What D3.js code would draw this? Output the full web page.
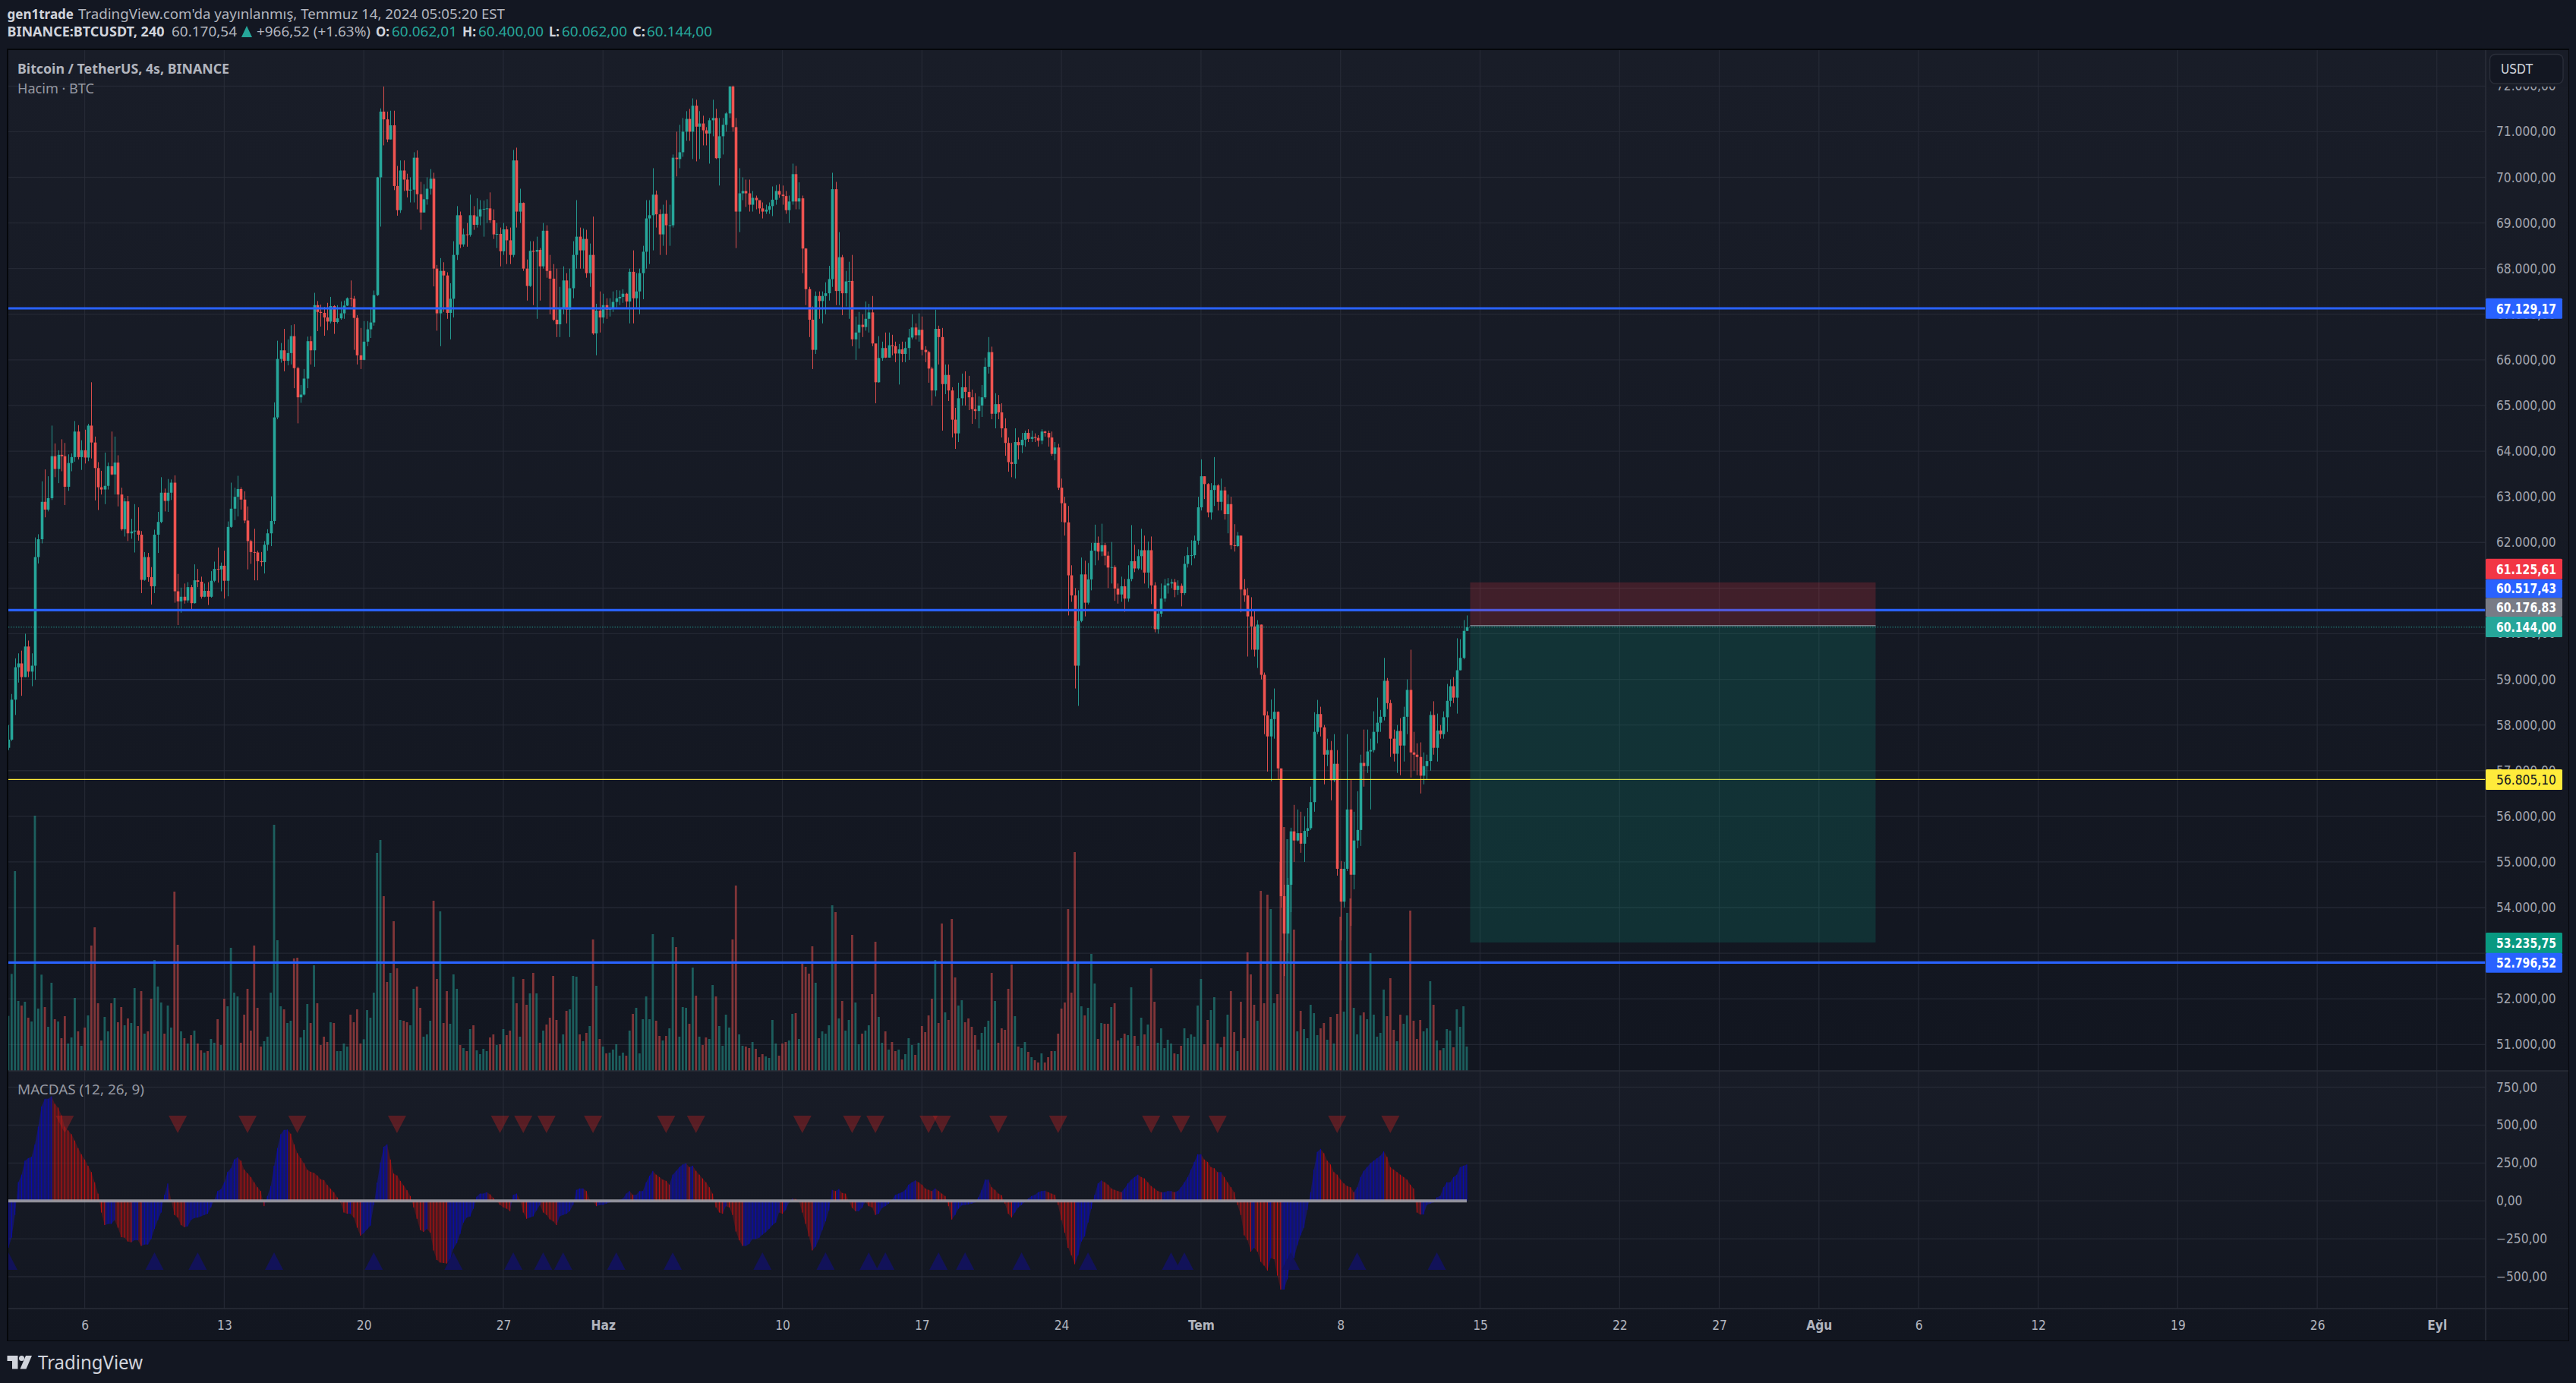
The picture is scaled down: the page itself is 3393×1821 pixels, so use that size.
<!DOCTYPE html>
<html><head><meta charset="utf-8">
<script src="https://cdn.jsdelivr.net/npm/d3@7"></script>
<style>
html,body{margin:0;padding:0;background:#131722;overflow:hidden}
svg{display:block}
text{font-family:"Noto Sans",sans-serif}
.ax text{font-family:"DejaVu Sans Condensed","DejaVu Sans",sans-serif;font-size:17.2px;fill:#a3a6af}
.ax path,.ax line{display:none}
</style></head><body><svg id="c" width="3393" height="1821"></svg>
<script>
const firstOpen=57500;
const closes=[57680,58555,59266,59350,59050,59720,59170,59300,61680,62070,
62890,62720,62970,63890,63610,63920,63890,63220,63740,63870,
64430,63870,64020,63860,64560,64190,63630,63210,63160,63240,
63670,63490,63750,63050,62290,62900,62200,62240,62260,62170,
61180,61680,61240,61040,62170,62450,63090,62910,63090,63310,
60930,60710,60810,60730,61020,60670,61170,61140,60810,60940,
60810,61160,61420,61410,61490,61160,62340,62740,63000,63170,
62940,62480,62030,61790,61780,61590,61570,61950,62200,62470,
64740,66020,66210,65980,66150,66520,65820,65180,65240,65590,
66410,66210,67200,67050,67030,66930,66840,67180,66830,66910,
67020,67190,67350,67340,66920,66100,66000,66400,66670,66820,
67420,70000,71440,71270,70830,71140,69810,69280,70150,69950,
69710,69730,70430,69630,69230,69520,69750,69970,68000,67020,
67950,67850,67030,67340,68300,69170,68530,68750,68740,69170,
68960,69140,69300,69310,69320,69060,68750,68760,68380,68860,
68620,68300,70370,69250,69440,68000,67620,68390,68370,68410,
68050,68830,67950,67780,66880,66780,67130,67740,67100,67570,
68300,68700,68400,68650,67900,68300,66580,67080,66930,67200,
67100,67130,67270,67350,67380,67450,67280,67930,67350,67500,
67900,68370,69100,69170,69620,69190,68750,69200,68950,68950,
70430,70400,70550,71000,71280,71000,71570,71110,71180,71030,
70960,71250,71300,70420,70900,71150,71400,71990,71100,69250,
69650,69700,69650,69400,69550,69500,69320,69250,69290,69370,
69510,69700,69620,69590,69280,69470,70070,69470,69540,68440,
67550,66880,66220,67400,67290,67400,67460,67770,69740,67510,
68250,67460,67720,67730,66450,66600,66770,66720,66900,67040,
66360,65510,66040,66260,66050,66320,66300,66140,66230,66130,
66260,66490,66710,66540,66660,66220,66170,65810,65330,66680,
66500,65470,65670,65330,64690,64390,65160,65400,65300,65180,
64920,64880,65000,65180,65850,66170,64820,65030,64850,64500,
64180,63760,63720,64200,64130,64250,64400,64270,64310,64290,
64230,64430,64400,64300,63940,64080,63200,62860,62440,61280,
60840,59300,60280,61300,60680,61190,61820,61990,61800,61940,
61710,61450,61460,60990,60860,61040,60770,61200,61590,61430,
61700,61830,61340,61830,61060,60100,60440,60770,61060,61100,
61130,60960,61050,60890,61530,61720,61720,62040,62770,63450,
63280,62660,63150,63250,62890,63140,62620,62840,61940,61920,
62150,60970,60840,60380,60160,59650,60200,59100,58210,57750,
58130,58290,57050,54250,53430,54500,55670,55470,55630,55400,
55680,55740,56310,57850,58240,57950,57350,57450,56790,57150,
54850,54130,54850,56150,54720,55470,55700,57170,57100,57420,
57450,57850,58050,58180,58970,58480,57700,57370,57870,57550,
58180,58770,57400,57350,57300,56890,57100,57210,58220,57500,
57880,57800,58170,58530,58850,58600,59200,59470,60062,60144];
const highs=[58000,58680,59460,59570,59630,60000,59850,59570,62110,62180,
63340,63600,63450,64560,64170,64020,64260,64180,63930,63950,
64660,64570,64240,64470,64600,65510,64320,63760,63570,63970,
63750,64430,64320,63910,63200,62970,63020,62520,62840,62770,
62250,61790,61770,61460,62280,62670,63430,63180,63390,63380,
63470,61310,61010,61100,61130,61070,61520,61420,61250,61100,
61130,61370,61580,61890,61560,61820,62460,63310,63200,63460,
63210,63120,62790,62060,62300,61820,61790,62030,62290,63010,
65070,66420,66370,66680,66450,66760,66780,65850,65450,65800,
66510,66520,67470,67290,67210,67160,67250,67380,67200,67200,
67280,67300,67370,67740,67400,66980,66700,66850,66850,67150,
67520,70010,71510,71990,71440,71460,71460,70250,70370,70370,
70080,70000,70550,70590,69900,69850,70000,70180,70100,68080,
68230,68140,67920,67680,68600,69370,69250,68880,69000,69620,
69370,69540,69500,69490,69520,69670,69300,69000,68900,69000,
68930,68900,70600,70650,69750,69450,68200,68600,68600,68700,
68450,69000,68950,68300,68100,68000,67600,68050,67900,68000,
68600,69500,68900,68880,68850,68550,69140,67230,67500,67450,
67350,67350,67500,67530,67520,67550,67470,68000,68400,67900,
68000,68500,69500,69500,70200,69710,69300,69400,69500,69400,
70500,71000,71150,71300,71450,71500,71730,71700,71450,71350,
71100,71300,71700,71500,71300,71300,71430,72000,72010,71300,
70200,70000,69950,69950,69700,69600,69450,69450,69400,69450,
69800,69830,69850,69820,69700,69600,70300,70250,69890,69600,
68450,67600,67170,67500,67500,67500,67700,68060,70100,69900,
68800,68300,67950,68150,68300,66950,67050,67000,67280,67230,
67400,66300,66520,66400,66600,66600,66550,66400,66350,66400,
66400,66680,67000,66800,67020,66950,66300,66200,65850,67100,
66750,66700,65900,65900,65400,64950,65500,65700,65750,65650,
65350,65270,65200,65450,66050,66500,66290,65270,65230,65050,
64720,64300,64180,64500,64300,64400,64450,64480,64450,64390,
64350,64480,64450,64450,64430,64200,64160,63400,63000,62800,
61500,61000,60950,61670,61600,61550,61990,62390,62130,62410,
61990,61800,62010,61500,61100,61250,61200,61500,62380,61950,
61850,62300,62150,62020,62130,61130,60500,61100,61200,61220,
61200,61200,61170,61100,61700,61900,62050,62150,63000,63820,
63450,63300,63300,63870,63280,63400,63220,63050,63000,62400,
62230,62150,61200,61000,60800,60500,60300,60200,59150,58300,
58560,58800,58300,57000,54500,54650,55750,56250,56150,56100,
56000,56180,56650,58280,58550,58400,58000,57700,57650,57800,
57450,55020,55000,57800,56800,56100,56550,57350,57900,57900,
57700,58300,58600,58330,59470,59030,58550,57900,58000,58150,
58400,59000,59650,57850,57600,57620,57400,57350,58300,58520,
58250,58000,58300,58900,59000,59050,59900,59880,60300,60400];
const lows=[57450,57650,58220,58930,58640,59050,59050,58850,58990,61540,
61980,62550,62680,62930,63430,63300,63560,62820,63130,63560,
63770,63820,63590,63730,63780,63840,62920,62710,63050,62840,
63160,63470,63050,62790,62260,62130,62030,62080,61780,62040,
60890,61160,61140,60640,60890,61770,62420,62680,62670,62930,
60680,60190,60460,60660,60680,60490,60660,61020,60770,60800,
60630,60790,61130,61120,60930,60770,60820,62320,62490,62570,
62720,62420,61410,61530,61170,61170,61480,61320,61820,61920,
62400,64700,65940,65750,65880,65900,65380,64610,65060,65220,
65380,65900,65850,66630,66730,66530,66650,66800,66570,66800,
66880,66900,67180,67170,66220,65900,65800,65990,66300,66480,
66750,67400,68920,70700,70770,70830,69720,69160,69220,69700,
69560,69450,69450,69300,68850,69230,69400,69620,67610,66640,
66300,67050,66900,66450,66930,68190,68450,68480,68480,68700,
68850,68900,68950,68700,69000,69000,68650,68450,68050,68300,
68100,68100,68250,68900,69000,67950,67300,67600,67200,66900,
67300,68000,67800,67000,66850,66500,66500,67000,66800,66500,
67350,68000,68000,68000,67800,67600,66550,66100,66600,66800,
66900,66950,67050,67150,67200,67250,67150,66800,66800,67150,
67000,67330,68000,68100,68400,68900,68300,68500,68300,68500,
68900,70020,70200,70450,70800,70800,70400,70350,70400,70700,
70700,70300,70900,70400,69820,70500,71000,71300,71000,68450,
68800,69500,69350,69250,69250,69300,69200,69100,69200,69200,
69150,69400,69550,69400,69200,69000,69400,69300,69300,67900,
67200,66500,65800,66130,66900,66800,67000,67300,67600,67200,
67200,66980,67170,66900,66300,66000,66250,66500,66640,66600,
66300,65050,65500,65980,66040,66050,66100,65950,65460,65950,
65950,66000,66450,66450,66400,66100,65950,65500,65000,65200,
65900,64450,65250,65100,64300,64050,64200,65000,65000,64900,
64600,64700,64500,64750,65150,65700,64700,64500,64700,64300,
63900,63550,63430,63400,63820,63960,64100,64200,64200,64200,
64100,64150,64320,64100,63900,63800,63150,62450,62150,60400,
60700,58800,58420,60250,60380,60640,60950,61500,61610,61700,
61500,61000,61100,60720,60660,60700,60480,60700,61150,61350,
61400,61400,61100,61000,60650,60030,60000,60370,60700,60880,
61000,60800,60850,60600,60850,61450,61500,61650,61950,62700,
62950,62550,62500,62800,62700,62700,62500,62200,61850,61800,
61900,60470,60700,59500,59650,59500,59250,59000,57800,56980,
56770,57700,56800,54000,52500,53000,53900,55000,55450,55200,
55000,55550,55700,56100,57800,57750,56700,57100,56350,56750,
54700,53280,54000,54800,53600,54400,55300,55350,56650,56950,
56150,57400,57600,57850,58100,58350,57300,57200,56950,56900,
57200,57800,56850,57000,56900,56500,56700,56800,57000,57350,
57200,57700,57700,57850,58400,58480,58250,59200,59440,60062];
const volumes=[217,383,789,276,258,273,210,195,1008,246,380,252,174,348,204,195,129,216,108,132,
288,156,99,171,219,495,567,267,120,213,156,267,288,192,252,180,207,189,327,177,
315,147,156,285,438,333,270,147,258,171,708,498,156,129,108,141,159,108,81,72,
78,126,111,204,102,285,255,486,309,294,111,222,324,159,495,249,96,117,135,309,
972,516,255,243,189,198,444,447,132,162,264,189,417,267,102,135,114,192,189,78,
78,108,96,222,192,243,108,125,240,210,309,861,912,690,351,387,591,405,201,198,
192,180,324,333,249,135,144,198,672,363,630,189,315,186,381,324,102,90,78,165,
180,81,66,87,78,132,144,102,105,165,141,159,372,267,135,363,261,306,387,306,
111,159,183,210,375,201,108,144,237,243,375,372,144,117,150,177,519,336,126,96,
69,72,84,105,60,72,60,159,225,249,69,204,294,204,540,198,138,120,138,168,
528,489,135,252,249,186,408,297,135,102,132,126,339,294,177,99,222,171,519,732,
144,99,96,90,114,87,54,66,57,51,201,108,60,108,114,120,225,228,126,423,
411,384,492,348,129,156,147,180,654,627,207,276,159,201,537,270,105,147,159,180,
303,510,213,111,156,84,114,78,84,45,66,129,102,63,111,177,153,219,285,438,
189,582,231,201,600,369,258,279,192,207,174,141,84,150,174,198,387,276,111,168,
162,324,420,216,96,90,114,75,54,42,33,69,33,54,78,78,147,246,270,639,
309,864,423,255,219,249,462,345,126,189,186,186,252,267,120,129,147,141,330,138,
99,210,144,183,405,273,111,168,90,123,108,69,66,99,168,129,144,135,258,363,
105,201,240,291,108,93,135,222,315,153,78,273,129,468,381,261,198,711,267,696,
639,267,303,825,963,915,873,558,156,237,165,129,261,228,141,168,189,123,213,108,
225,609,234,624,681,249,144,219,231,204,465,222,135,150,321,216,366,162,117,222,
186,219,633,198,126,201,156,168,354,261,120,81,90,165,159,93,243,174,255,96];
const macdValues=[-310,-243,-93,123,173,265,282,290,373,490,623,673,673,690,640,615,565,490,465,440,
398,348,307,273,232,190,123,48,-77,-160,-152,-152,-127,-177,-240,-243,-268,-273,-260,-260,
-297,-288,-288,-252,-185,-127,-77,40,115,7,-93,-110,-160,-173,-168,-127,-113,-110,-102,-93,
-85,-43,7,65,77,123,190,215,273,287,265,207,182,157,123,90,65,-35,32,98,
232,348,440,468,470,443,373,315,282,248,205,192,185,168,143,137,105,80,57,23,
-10,-77,-85,-85,-110,-177,-230,-213,-188,-163,-28,120,253,357,373,273,180,168,132,102,
70,32,-43,-118,-193,-205,-185,-210,-327,-390,-407,-410,-413,-385,-315,-280,-218,-143,-110,-103,
-52,28,48,48,57,43,20,-3,-27,-43,-52,-68,40,48,7,-77,-118,-110,-102,-63,
-27,-77,-93,-122,-135,-160,-102,-93,-85,-68,-27,73,82,82,65,7,-2,-35,-27,-27,
-18,-10,-2,-2,7,15,48,65,40,40,65,65,123,165,198,173,157,140,132,107,
173,198,223,240,248,223,232,198,173,148,123,90,48,-43,-77,-85,-35,-43,-93,-202,
-260,-297,-297,-285,-252,-252,-243,-223,-207,-185,-160,-143,-77,-85,-60,-10,15,12,-2,-77,
-152,-235,-327,-302,-255,-193,-135,-63,73,65,78,52,48,-2,-47,-68,-68,-45,-5,-35,
-43,-93,-85,-47,-35,-18,7,40,48,57,73,107,123,135,123,107,82,73,65,82,
65,48,32,-35,-123,-93,-52,-30,-27,-23,-18,-10,23,73,140,140,90,73,48,37,
-18,-85,-110,-77,-43,-27,-7,15,32,40,57,65,68,57,48,40,-27,-127,-210,-310,
-360,-418,-360,-268,-235,-143,-52,40,115,135,123,107,82,73,65,57,82,115,140,157,
173,157,148,123,98,82,65,57,57,65,65,57,65,90,123,157,207,257,307,307,
273,257,223,215,190,190,157,123,90,57,-27,-93,-227,-260,-335,-310,-335,-402,-427,-460,
-377,-385,-493,-585,-585,-518,-393,-377,-293,-227,-177,-60,57,207,323,343,315,265,240,190,
173,140,115,98,90,57,90,157,198,223,248,265,282,298,327,290,223,207,190,173,
157,140,107,82,-77,-90,-90,-27,-18,-10,23,32,90,123,123,157,173,223,232,240];
const sellSignalBars=[17,51,72,87,117,148,155,162,176,198,207,239,254,261,277,281,298,316,344,353,364,400,416];
const buySignalBars=[0,44,57,80,110,134,152,161,167,183,200,227,246,259,264,280,288,305,325,350,354,386,406,430];
const priceTicks=[72000,71000,70000,69000,68000,67000,66000,65000,64000,63000,62000,61000,60000,59000,58000,57000,56000,55000,54000,53000,52000,51000];
const macdTicks=[750,500,250,0,-250,-500];
const dayTicks=[0,7,14,21,26,35,42,49,56,63,70,77,82,87,92,98,105,112,118];
const dayLabels=["6","13","20","27","Haz","10","17","24","Tem","8","15","22","27","Ağu","6","12","19","26","Eyl"];
const boldLabels=["Haz","Tem","Ağu","Eyl"];
const levelLines=[67129.17,60517.43,52796.52];
const yellowLevel=56805.10, lastPrice=60144.00;
const entryPrice=60176.83, stopPrice=61125.61, targetPrice=53235.75;
const priceTags=["67129.17","61125.61","60517.43","60176.83","60144.00","56805.10","53235.75","52796.52"].map(Number);
const tagFill=["#2962ff","#f23645","#2962ff","#787b86","#26a69a","#ffeb3b","#089981","#2962ff"];
const tagText=["#fff","#fff","#fff","#fff","#fff","#131722","#fff","#fff"];

const locale=d3.formatLocale({decimal:",",thousands:".",grouping:[3],currency:["",""],minus:"−"});
const fmt=locale.format(",.2f");
const L=11,R=3274,W=3393,H=1821,AX=3383;
const TOP=66,VOLB=1410,MB=1723,FB=1765;
const barsPerDay=6, firstDayBar=23;
const xDay=d3.scaleLinear().domain([0,118]).range([111.6,3209.7]);
const xBar=i=>xDay((i-firstDayBar)/barsPerDay);
const yP=d3.scaleLinear().domain([72000,51000]).range([113.3,1375.3]);
const yV=d3.scaleLinear().domain([0,1008]).range([VOLB,1074]);
const yM=d3.scaleLinear().domain([750,-500]).range([1431.5,1681]);
const opens=closes.map((c,i)=>i?closes[i-1]:firstOpen);
const UP="#26a69a",DN="#ef5350";
const svg=d3.select("#c");
const defs=svg.append("defs");
const lg=(id,a,b)=>{const g=defs.append("linearGradient").attr("id",id).attr("x1",0).attr("y1",0).attr("x2",0).attr("y2",1);
 g.append("stop").attr("offset",0).attr("stop-color",a);g.append("stop").attr("offset",1).attr("stop-color",b);};
lg("g1","#191d28","#121620");lg("g2","#181c27","#121620");
defs.append("clipPath").attr("id","pp").append("rect").attr("x",L).attr("y",TOP).attr("width",R-L).attr("height",VOLB-TOP);
defs.append("clipPath").attr("id","mp").append("rect").attr("x",L).attr("y",VOLB).attr("width",R-L).attr("height",MB-VOLB);

svg.append("rect").attr("width",W).attr("height",H).attr("fill","#131722");
// frame + panes
svg.append("rect").attr("x",L-2).attr("y",TOP-2).attr("width",AX-L+3).attr("height",FB-TOP+3).attr("fill","#05070b");
svg.append("rect").attr("x",L).attr("y",TOP).attr("width",AX-L).attr("height",VOLB-TOP).attr("fill","url(#g1)");
svg.append("rect").attr("x",L).attr("y",VOLB).attr("width",AX-L).attr("height",FB-VOLB).attr("fill","url(#g2)");
// grid
const grid=svg.append("g").attr("stroke","#2a2e39").attr("stroke-opacity",.75).attr("stroke-width",1.3);
grid.selectAll(".gv").data(dayTicks).join("line").attr("x1",d=>xDay(d)).attr("x2",d=>xDay(d)).attr("y1",TOP).attr("y2",MB);
grid.selectAll(".gh").data(priceTicks).join("line").attr("x1",L).attr("x2",R).attr("y1",d=>yP(d)).attr("y2",d=>yP(d));
grid.selectAll(".gm").data(macdTicks).join("line").attr("x1",L).attr("x2",R).attr("y1",d=>yM(d)).attr("y2",d=>yM(d));

const pane=svg.append("g").attr("clip-path","url(#pp)");
// volume
pane.append("g").selectAll("rect").data(volumes).join("rect")
 .attr("x",(d,i)=>xBar(i)-1.4).attr("width",2.8).attr("y",d=>yV(d)).attr("height",d=>VOLB-yV(d))
 .attr("fill",(d,i)=>closes[i]>=opens[i]?UP:DN).attr("fill-opacity",.5);
// candles
const bars=closes.map((c,i)=>({i,o:opens[i],c,h:highs[i],l:lows[i]}));
pane.append("g").selectAll("line").data(bars).join("line")
 .attr("x1",d=>Math.round(xBar(d.i))+.5).attr("x2",d=>Math.round(xBar(d.i))+.5)
 .attr("y1",d=>yP(d.h)).attr("y2",d=>yP(d.l)).attr("stroke",d=>d.c>=d.o?UP:DN).attr("stroke-width",.9);
pane.append("g").selectAll("rect").data(bars).join("rect")
 .attr("x",d=>Math.round(xBar(d.i))+.5-1.8).attr("width",3.6)
 .attr("y",d=>Math.min(yP(d.o),yP(d.c))).attr("height",d=>Math.max(1,Math.abs(yP(d.o)-yP(d.c))))
 .attr("fill",d=>d.c>=d.o?UP:DN);
// levels
const lv=svg.append("g");
lv.selectAll("line").data(levelLines).join("line").attr("x1",L).attr("x2",R).attr("y1",d=>yP(d)).attr("y2",d=>yP(d))
 .attr("stroke","#2962ff").attr("stroke-width",3.2);
lv.append("line").attr("x1",L).attr("x2",R).attr("y1",yP(yellowLevel)).attr("y2",yP(yellowLevel)).attr("stroke","#ffeb3b").attr("stroke-width",1.3);
lv.append("line").attr("x1",L).attr("x2",R).attr("y1",yP(lastPrice)).attr("y2",yP(lastPrice)).attr("stroke",UP).attr("stroke-width",1).attr("stroke-dasharray","1.3 2");
// position box
const bx0=xBar(439)+4.5,bx1=2470.5;
svg.append("rect").attr("x",bx0).attr("width",bx1-bx0).attr("y",yP(stopPrice)).attr("height",yP(entryPrice)-yP(stopPrice)).attr("fill","#f23645").attr("fill-opacity",.2);
svg.append("rect").attr("x",bx0).attr("width",bx1-bx0).attr("y",yP(entryPrice)).attr("height",yP(targetPrice)-yP(entryPrice)).attr("fill","#089981").attr("fill-opacity",.2);
svg.append("line").attr("x1",bx0).attr("x2",bx1).attr("y1",yP(entryPrice)).attr("y2",yP(entryPrice)).attr("stroke","#787b86").attr("stroke-width",1.6);
// macd
const mp=svg.append("g").attr("clip-path","url(#mp)");
const mcol=(i)=>i==0||macdValues[i]>=macdValues[i-1];
const seg=d3.area().x(d=>xBar(d.i)).y0(yM(0)).y1(d=>yM(d.v));
const pts=macdValues.map((v,i)=>({i,v}));
mp.append("g").selectAll("path").data(pts.slice(1)).join("path")
 .attr("d",d=>seg([pts[d.i-1],d])).attr("fill",d=>mcol(d.i)?"#1616a0":"#a01616").attr("fill-opacity",d=>mcol(d.i)?.5:.36);
mp.append("g").selectAll("line").data(pts).join("line").attr("x1",d=>xBar(d.i)).attr("x2",d=>xBar(d.i)).attr("y1",yM(0)).attr("y2",d=>yM(d.v))
 .attr("stroke",d=>mcol(d.i)?"#0808c0":"#d81010").attr("stroke-width",.9);
const triSell=i=>{const x=xBar(i);return `M${x-12},1469L${x+12},1469L${x},1492Z`};
const triBuy=i=>{const x=xBar(i);return `M${x-12},1672L${x+12},1672L${x},1649Z`};
mp.append("g").selectAll("path").data(sellSignalBars).join("path").attr("d",triSell).attr("fill","#b22222").attr("fill-opacity",.42);
mp.append("g").selectAll("path").data(buySignalBars).join("path").attr("d",triBuy).attr("fill","#12125f").attr("fill-opacity",.9);
svg.append("line").attr("x1",L).attr("x2",xBar(439)).attr("y1",yM(0)).attr("y2",yM(0)).attr("stroke","#a6a6ad").attr("stroke-opacity",.85).attr("stroke-width",4);
// separators
const sep=svg.append("g").attr("stroke","#2a2e39").attr("stroke-width",1.6);
sep.append("line").attr("x1",L).attr("x2",AX).attr("y1",VOLB).attr("y2",VOLB);
sep.append("line").attr("x1",L).attr("x2",AX).attr("y1",MB).attr("y2",MB);
sep.append("line").attr("x1",R).attr("x2",R).attr("y1",TOP).attr("y2",FB);
// axes
svg.append("g").attr("class","ax").attr("transform",`translate(${R+14},0)`)
 .call(d3.axisRight(yP).tickValues(priceTicks).tickFormat(fmt).tickSize(0).tickPadding(0));
svg.append("g").attr("class","ax").attr("transform",`translate(${R+14},0)`)
 .call(d3.axisRight(yM).tickValues(macdTicks).tickFormat(fmt).tickSize(0).tickPadding(0));
const tg=svg.append("g").attr("class","ax").attr("transform",`translate(0,1738.5)`)
 .call(d3.axisBottom(xDay).tickValues(dayTicks).tickFormat((d,i)=>dayLabels[i]).tickSize(0).tickPadding(0));
tg.selectAll("text").style("fill","#b2b5be").style("font-weight",(d,i)=>boldLabels.includes(dayLabels[i])?700:400);
// USDT button, with its opaque margin that hides the top of the 72.000 label
svg.append("rect").attr("x",3275).attr("y",TOP).attr("width",107).attr("height",48).attr("fill","#181c27");
svg.append("rect").attr("x",3279.5).attr("y",71.5).attr("width",96.5).attr("height",38.5).attr("rx",7).attr("fill","#131722").attr("stroke","#2a2e39").attr("stroke-width",1.4);
svg.append("text").attr("x",3294).attr("y",97).attr("fill","#d1d4dc").attr("font-size",17).style("font-family","DejaVu Sans Condensed").text("USDT");
// price tags
const tagCenters=[406.3,749.3,775,799.6,825.4,1026.5,1241.4,1267.8];
const tagH=[27,27,24.6,24.6,27,27,27,26];
const tags=svg.append("g");
tags.selectAll("rect").data(priceTags).join("rect").attr("x",R).attr("width",101).attr("y",(d,i)=>tagCenters[i]-tagH[i]/2).attr("height",(d,i)=>tagH[i]).attr("rx",1.5).attr("fill",(d,i)=>tagFill[i]);
tags.selectAll("text").data(priceTags).join("text").attr("x",R+14).attr("y",(d,i)=>tagCenters[i]+6.2).attr("fill",(d,i)=>tagText[i])
 .attr("font-size",17.2).attr("font-weight",(d,i)=>i==5?400:700).attr("textLength",79).attr("lengthAdjust","spacingAndGlyphs").style("font-family","DejaVu Sans Condensed").text(d=>fmt(d));
// header
const run=(x,y,t,w,col,bold,size)=>svg.append("text").attr("x",x).attr("y",y).attr("fill",col).attr("font-size",size||18.5).attr("font-weight",bold?700:400)
 .attr("textLength",w).attr("lengthAdjust","spacingAndGlyphs").text(t);
run(9.5,25,"gen1trade",87.5,"#d1d4dc",1);
run(103,25,"TradingView.com'da yayınlanmış, Temmuz 14, 2024 05:05:20 EST",562,"#b2b5be");
run(9.5,48,"BINANCE:BTCUSDT, 240",207,"#d1d4dc",1);
run(226,48,"60.170,54",86,"#b2b5be");
svg.append("path").attr("d","M318,49L332,49L325,34Z").attr("fill",UP);
run(338,48,"+966,52 (+1.63%)",150,"#b2b5be");
run(495,48,"O:",18,"#d1d4dc",1);run(516,48,"60.062,01",86,UP);
run(609,48,"H:",18,"#d1d4dc",1);run(630,48,"60.400,00",86,UP);
run(723,48,"L:",14,"#d1d4dc",1);run(740,48,"60.062,00",86,UP);
run(833,48,"C:",17,"#d1d4dc",1);run(852,48,"60.144,00",86,UP);
run(23,97,"Bitcoin / TetherUS, 4s, BINANCE",279,"#b2b5be",1,18.5);
run(23,123,"Hacim · BTC",101,"#9598a1",0,18.5);
run(23,1441,"MACDAS (12, 26, 9)",167,"#9598a1",0,18.5);
// logo
const lgo=svg.append("g").attr("fill","#d1d4dc");
lgo.append("path").attr("d","M9.5,1785H23.5V1802.5H16V1792H9.5Z");
lgo.append("circle").attr("cx",28.5).attr("cy",1788.5).attr("r",3.5);
lgo.append("path").attr("d","M34,1785H42L34.5,1802.5H26.5Z");
run(50,1803,"TradingView",138,"#d1d4dc",0,25);
</script></body></html>
